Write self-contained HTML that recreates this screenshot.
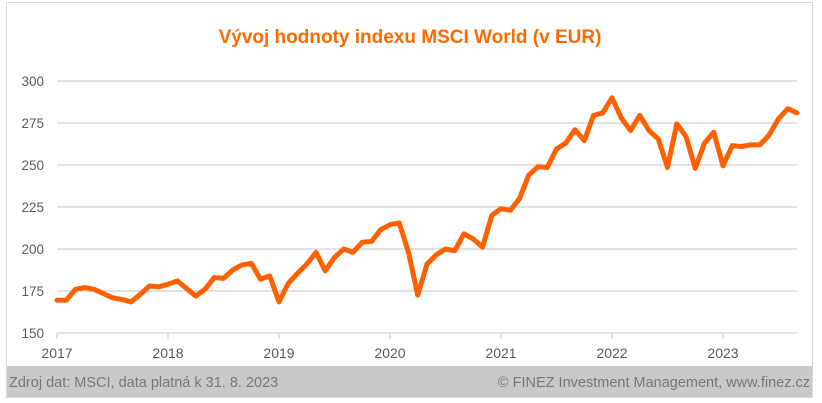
<!DOCTYPE html>
<html><head><meta charset="utf-8"><style>
html,body{margin:0;padding:0;background:#fff;}
body{width:822px;height:403px;position:relative;overflow:hidden;font-family:"Liberation Sans",sans-serif;}
</style></head><body>
<svg width="822" height="403" viewBox="0 0 822 403" xmlns="http://www.w3.org/2000/svg" style="position:absolute;left:0;top:0">
<rect x="6.5" y="2.5" width="806" height="395" fill="#fff" stroke="#d9d9d9"/>
<text x="410" y="43" text-anchor="middle" font-family="Liberation Sans, sans-serif" font-weight="bold" font-size="19" fill="#FF6A00">Vývoj hodnoty indexu MSCI World (v EUR)</text>
<g stroke="#d9d9d9" stroke-width="1.5">
<line x1="57" x2="797" y1="81" y2="81"/><line x1="57" x2="797" y1="123" y2="123"/>
<line x1="57" x2="797" y1="165" y2="165"/><line x1="57" x2="797" y1="207" y2="207"/>
<line x1="57" x2="797" y1="249" y2="249"/><line x1="57" x2="797" y1="291" y2="291"/>
<line x1="57" x2="797" y1="333" y2="333"/>
<line x1="57" x2="57" y1="333" y2="339"/><line x1="168" x2="168" y1="333" y2="339"/>
<line x1="279" x2="279" y1="333" y2="339"/><line x1="390" x2="390" y1="333" y2="339"/>
<line x1="501" x2="501" y1="333" y2="339"/><line x1="612" x2="612" y1="333" y2="339"/>
<line x1="723" x2="723" y1="333" y2="339"/>
</g>
<g font-family="Liberation Sans, sans-serif" font-size="13.5" fill="#595959" text-anchor="end">
<text x="44" y="86">300</text><text x="44" y="128">275</text><text x="44" y="170">250</text>
<text x="44" y="212">225</text><text x="44" y="254">200</text><text x="44" y="296">175</text><text x="44" y="338">150</text>
</g>
<g font-family="Liberation Sans, sans-serif" font-size="14" fill="#595959" text-anchor="middle">
<text x="57" y="358">2017</text><text x="168" y="358">2018</text><text x="279" y="358">2019</text>
<text x="390" y="358">2020</text><text x="501" y="358">2021</text><text x="612" y="358">2022</text><text x="723" y="358">2023</text>
</g>
<polyline transform="translate(57,585) scale(9.25,-1.68)" vector-effect="non-scaling-stroke" fill="none" stroke="#FF6000" stroke-width="5" stroke-linejoin="round" stroke-linecap="round"
points="0,169.5 1,169.5 2,176 3,177 4,176 5,173.5 6,171 7,170 8,168.5 9,173 10,178 11,177.5
12,179 13,181 14,176.5 15,172 16,176 17,183 18,182.5 19,187.5 20,190.5 21,191.5 22,182 23,184
24,168.5 25,179.5 26,185.5 27,191 28,198 29,187 30,195 31,200 32,198 33,204 34,204.5 35,211.5
36,214.5 37,215.5 38,198 39,172.5 40,191 41,196.5 42,200 43,199 44,209 45,206 46,201 47,220
48,224 49,223 50,230 51,244 52,249 53,248.5 54,259.5 55,263 56,271 57,264.5 58,279.5 59,281
60,290 61,278 62,270.5 63,279.5 64,270.5 65,265.5 66,248.5 67,274.5 68,267 69,248 70,263 71,269.5
72,249.5 73,261.5 74,261 75,262 76,262 77,268 78,277.5 79,283.5 80,281"/>
<rect x="7" y="366" width="805" height="31" fill="#c9c9c9"/>
<text x="9" y="387" font-family="Liberation Sans, sans-serif" font-size="14.5" fill="#767676">Zdroj dat: MSCI, data platná k 31. 8. 2023</text>
<text x="810" y="387" text-anchor="end" font-family="Liberation Sans, sans-serif" font-size="14.5" fill="#767676">© FINEZ Investment Management, www.finez.cz</text>
</svg>
</body></html>
